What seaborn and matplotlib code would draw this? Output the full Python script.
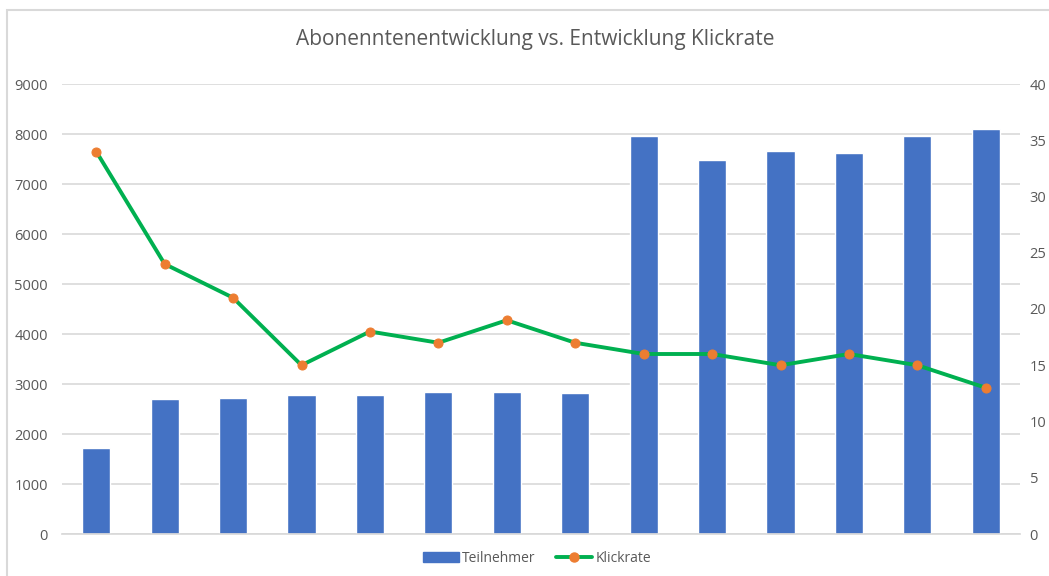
#!/usr/bin/env python3
"""Abonnenten vs. Klickrate -> out.png"""

import matplotlib.pyplot as plt
import pandas as pd
import seaborn as sns
from matplotlib.lines import Line2D
from matplotlib.patches import Patch, Rectangle

# data
periods = [str(i) for i in range(1, 15)]
teilnehmer = [1720, 2700, 2720, 2780, 2780, 2840, 2840, 2820, 7960, 7490, 7670, 7630, 7960, 8110]
klickrate = [34, 24, 21, 15, 18, 17, 19, 17, 16, 16, 15, 16, 15, 13]

BLUE = "#4472C4"
GREEN = "#00B050"
ORANGE = "#ED7D31"
GRID = "#D9D9D9"
TXT = "#595959"

sns.set_theme(style="white")
plt.rcParams["font.family"] = ["Open Sans", "DejaVu Sans"]

df = pd.DataFrame({"period": periods, "teilnehmer": teilnehmer, "klickrate": klickrate})
df["pos"] = range(len(df))

fig = plt.figure(figsize=(10.49, 5.76), dpi=100)
ax = fig.add_axes([62 / 1049, 1 - 534 / 576, (1020 - 62) / 1049, (534 - 84) / 576])

sns.barplot(data=df, x="period", y="teilnehmer", color=BLUE, width=0.41,
            saturation=1, ax=ax, zorder=2)
ax.set_ylim(0, 9000)
ax.set_yticks(range(0, 9001, 1000))
ax.set_xlim(-0.5, len(df) - 0.5)
ax.set_xticks([])
ax.set_xlabel("")
ax.set_ylabel("")
ax.grid(axis="y", color=GRID, linewidth=1.2, zorder=0)
ax.set_axisbelow(True)
ax.tick_params(axis="y", length=0, labelsize=10.5, labelcolor=TXT, pad=10)
for s in ax.spines.values():
    s.set_visible(False)
ax.spines["bottom"].set_visible(True)
ax.spines["bottom"].set_color(GRID)

ax2 = ax.twinx()
sns.lineplot(data=df, x="pos", y="klickrate", color=GREEN, linewidth=2.8,
             marker="o", markersize=6.5, markerfacecolor=ORANGE,
             markeredgecolor=ORANGE, ax=ax2, zorder=3)
ax2.set_ylim(0, 40)
ax2.set_yticks(range(0, 41, 5))
ax2.set_xlim(-0.5, len(df) - 0.5)
ax2.set_ylabel("")
ax2.tick_params(axis="y", length=0, labelsize=10.5, labelcolor=TXT, pad=7)
for s in ax2.spines.values():
    s.set_visible(False)

fig.text(535 / 1049, 1 - 40 / 576, "Abonenntenentwicklung vs. Entwicklung Klickrate",
         ha="center", va="center", fontsize=15, color=TXT)

handles = [
    Patch(facecolor=BLUE, edgecolor=BLUE),
    Line2D([], [], color=GREEN, linewidth=2.8, marker="o", markersize=6.5,
           markerfacecolor=ORANGE, markeredgecolor=ORANGE),
]
fig.legend(handles, ["Teilnehmer", "Klickrate"], loc="center",
           bbox_to_anchor=(537 / 1049, 1 - 558 / 576), ncol=2, frameon=False,
           fontsize=10, labelcolor=TXT, handlelength=2.6, handletextpad=0.2,
           columnspacing=1.5)

# chart frame (cut off on the right and bottom in the reference)
fig.patches.append(Rectangle((7 / 1049, -0.1), 1.2, 1 - 10 / 576 + 0.1,
                             transform=fig.transFigure, fill=False,
                             edgecolor=GRID, linewidth=1.5))

fig.savefig("out.png", dpi=100)
plt.close(fig)
